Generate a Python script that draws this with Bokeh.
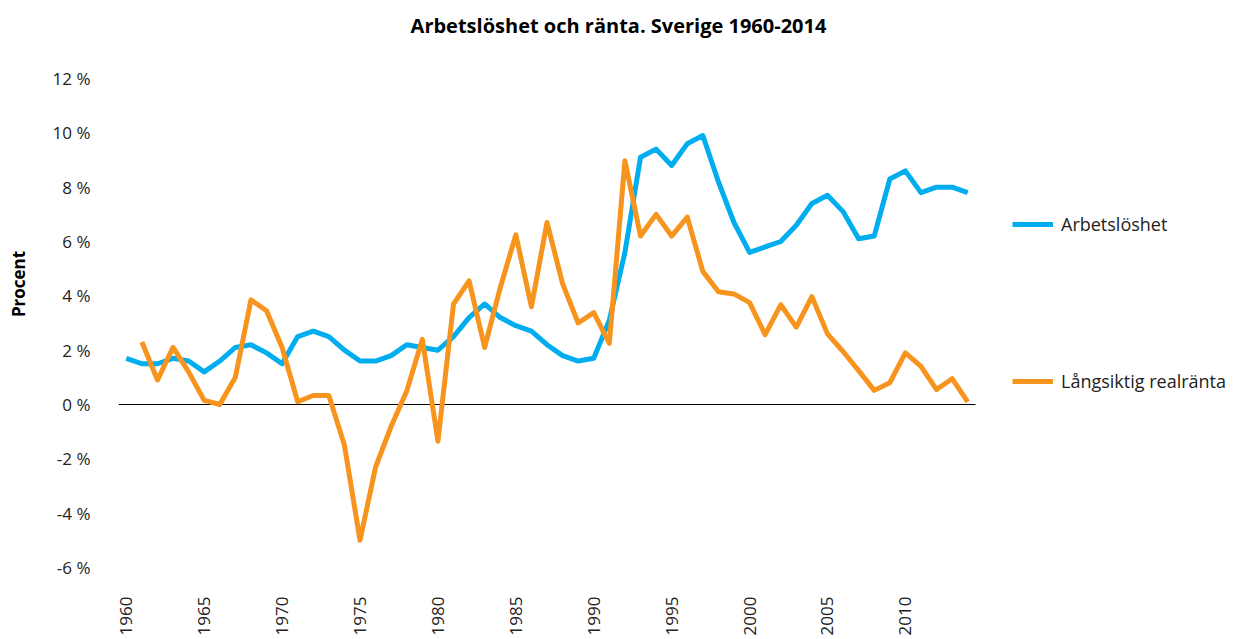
from math import pi
from bokeh.plotting import figure
from bokeh.models import (ColumnDataSource, Range1d, FixedTicker, PrintfTickFormatter,
                          Legend, LegendItem, Label)
from bokeh.embed import file_html
from bokeh.resources import INLINE

years = list(range(1960, 2015))
arbetsloshet = [1.7, 1.5, 1.5, 1.7, 1.6, 1.2, 1.6, 2.1, 2.2, 1.9,
                1.5, 2.5, 2.7, 2.5, 2.0, 1.6, 1.6, 1.8, 2.2, 2.1,
                2.0, 2.5, 3.2, 3.7, 3.2, 2.9, 2.7, 2.2, 1.8, 1.6,
                1.7, 3.1, 5.6, 9.1, 9.4, 8.8, 9.6, 9.9, 8.2, 6.7,
                5.6, 5.8, 6.0, 6.6, 7.4, 7.7, 7.1, 6.1, 6.2, 8.3,
                8.6, 7.8, 8.0, 8.0, 7.8]
realranta = [None, 2.3, 0.9, 2.1, 1.2, 0.15, 0.0, 1.0, 3.85, 3.45,
             2.1, 0.1, 0.33, 0.33, -1.5, -5.0, -2.3, -0.8, 0.5, 2.4,
             -1.35, 3.7, 4.55, 2.1, 4.3, 6.25, 3.6, 6.7, 4.45, 3.0,
             3.38, 2.25, 8.97, 6.2, 7.0, 6.2, 6.9, 4.9, 4.15, 4.07,
             3.75, 2.57, 3.67, 2.85, 3.97, 2.6, 1.95, 1.25, 0.52, 0.8,
             1.9, 1.4, 0.55, 0.95, 0.1]
x_ticks = [1960, 1965, 1970, 1975, 1980, 1985, 1990, 1995, 2000, 2005, 2010]
y_ticks = [-6, -4, -2, 0, 2, 4, 6, 8, 10, 12]

BLUE = "#00AEEF"
ORANGE = "#F7941D"
FONT = "Open Sans"

W, H = 1233, 639
LEFT, TOP, BOTTOM = 118, 0, 72          # borders (px)
PLOT_RIGHT_PX = 975                     # where the data area ends
PLOT_TOP_PX = 78                        # where y=12 sits

x0, x1 = years[0] - 0.5, years[-1] + 0.5
ppx = (PLOT_RIGHT_PX - LEFT) / (x1 - x0)
x_end = x1 + (W - PLOT_RIGHT_PX) / ppx
ymin, ymax = y_ticks[0], y_ticks[-1]
ppy = (H - BOTTOM - PLOT_TOP_PX) / (ymax - ymin)
y_end = ymax + PLOT_TOP_PX / ppy

src = ColumnDataSource(dict(
    year=years, a=arbetsloshet,
    r=[float("nan") if v is None else v for v in realranta]))

p = figure(width=W, height=H, output_backend="svg", toolbar_location=None,
           x_range=Range1d(x0, x_end), y_range=Range1d(ymin, y_end),
           min_border_left=LEFT, min_border_right=0, min_border_top=TOP,
           min_border_bottom=BOTTOM)
p.outline_line_color = None
p.xgrid.visible = False
p.ygrid.visible = False
p.background_fill_color = "white"

p.segment(x0=[x0], y0=[0], x1=[x1], y1=[0], line_color="black", line_width=1)

la = p.line("year", "a", source=src, line_color=BLUE, line_width=5, line_join="round")
lr = p.line("year", "r", source=src, line_color=ORANGE, line_width=5, line_join="round")

p.yaxis.ticker = FixedTicker(ticks=y_ticks)
p.yaxis.formatter = PrintfTickFormatter(format="%d %%")
p.xaxis.ticker = FixedTicker(ticks=x_ticks)
for ax in (p.xaxis[0], p.yaxis[0]):
    ax.axis_line_color = None
    ax.major_tick_line_color = None
    ax.minor_tick_line_color = None
    ax.major_label_text_font = FONT
    ax.major_label_text_font_size = "17px"
    ax.major_label_text_color = "#222222"
p.xaxis.major_label_orientation = pi / 2
p.xaxis.major_label_standoff = 23
p.yaxis.major_label_standoff = 22
p.yaxis.axis_label = "Procent"
p.yaxis.axis_label_text_font = FONT
p.yaxis.axis_label_text_font_style = "bold"
p.yaxis.axis_label_text_font_size = "17px"
p.yaxis.axis_label_text_color = "black"
p.yaxis.axis_label_standoff = 20

legend = Legend(items=[LegendItem(label="Arbetslöshet", renderers=[la]),
                       LegendItem(label="Långsiktig realränta", renderers=[lr])],
                location=(1012 - LEFT, 174), orientation="vertical",
                spacing=133, padding=0, margin=0, glyph_width=41, glyph_height=20,
                label_standoff=8, label_text_font=FONT, label_text_font_size="18px",
                label_text_color="#222222", border_line_alpha=0,
                background_fill_alpha=0)
p.add_layout(legend)

title = Label(x=618 - LEFT, y=H - BOTTOM - 25, x_units="screen", y_units="screen",
              text="Arbetslöshet och ränta. Sverige 1960-2014",
              text_font=FONT, text_font_style="bold", text_font_size="20px",
              text_align="center", text_baseline="middle", text_color="black")
p.add_layout(title)

open("out.html", "w").write(file_html(p, INLINE))
